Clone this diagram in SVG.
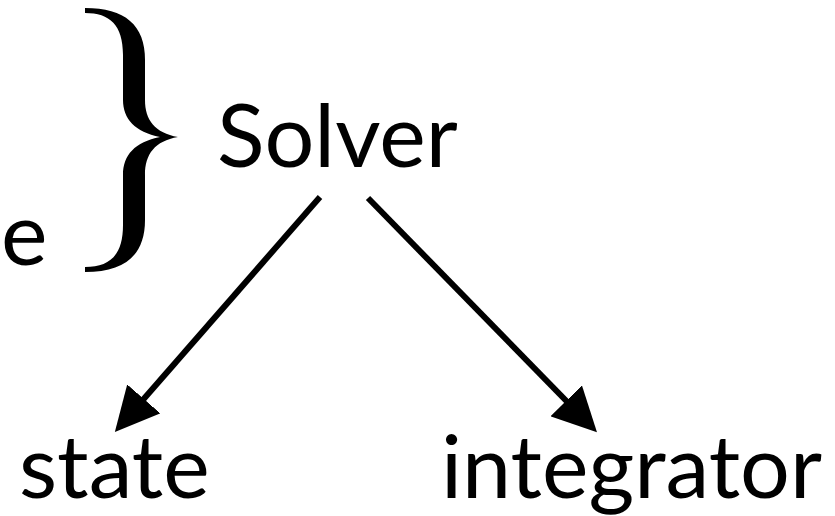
<svg xmlns="http://www.w3.org/2000/svg" width="835" height="516" viewBox="0 0 835 516">
<style>
.lbl{font-family:Lato,"Open Sans","DejaVu Sans",sans-serif;font-size:88px;fill:#000}
.edge{stroke:#000;stroke-width:6;fill:none}
</style>
<defs>
<marker id="ah" markerUnits="userSpaceOnUse" markerWidth="44" markerHeight="44" refX="24" refY="22" orient="auto" viewBox="0 0 44 44">
<path d="M0,0 L44,22 L0,44 Z" fill="#000"/>
</marker>
</defs>
<rect width="835" height="516" fill="#fff"/>
<g id="prev"><text class="lbl" x="1" y="265">e</text></g>
<g id="brace"><path d="M85,8 C125,8 145,25 145,60 L145,100 C145,120 155,133 178,137 C155,141 145,154 145,175 L145,220 C145,255 125,272 85,272 L85,267 C110,267 123,255 123,225 L123,175 C123,155 135,142 160,137 C135,132 123,119 123,100 L123,55 C123,25 110,13 85,13 Z" fill="#000"/></g>
<g id="solver"><text class="lbl" x="217" y="167">Solver</text></g>
<g id="state"><text class="lbl" x="19" y="498">state</text></g>
<g id="integrator"><text class="lbl" x="441" y="498">integrator</text></g>
<g id="connectors">
<line class="edge" x1="320" y1="197" x2="128" y2="417" marker-end="url(#ah)"/>
<line class="edge" x1="368" y1="198" x2="583" y2="418" marker-end="url(#ah)"/>
</g>
</svg>
